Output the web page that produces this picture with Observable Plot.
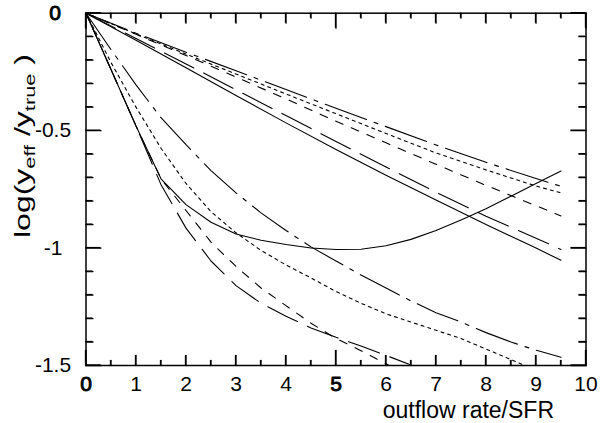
<!DOCTYPE html>
<html>
<head>
<meta charset="utf-8">
<script src="https://cdn.jsdelivr.net/npm/d3@7"></script>
<script src="https://cdn.jsdelivr.net/npm/@observablehq/plot@0.6"></script>
<style>
  html, body { margin: 0; padding: 0; background: #fff; }
  svg { display: block; }
</style>
</head>
<body>
<div id="chart"></div>
<script>
// ---- data ----
const xUpper = [0, 1, 2, 3, 4, 5, 6, 7, 8, 9, 9.5];
const upperDashDot = [0, -0.085, -0.166, -0.245, -0.325, -0.405, -0.483, -0.561, -0.635, -0.704, -0.737];
const upperDotted  = [0, -0.088, -0.174, -0.259, -0.344, -0.428, -0.512, -0.595, -0.667, -0.736, -0.765];
const upperDashed  = [0, -0.090, -0.180, -0.272, -0.365, -0.460, -0.552, -0.643, -0.733, -0.820, -0.863];
const upperLongDash= [0, -0.108, -0.216, -0.326, -0.436, -0.546, -0.655, -0.762, -0.865, -0.958, -1.006];
const upperSolid   = [0, -0.115, -0.232, -0.350, -0.467, -0.580, -0.690, -0.795, -0.900, -1.000, -1.052];

const xLower = [0, 0.5, 1, 1.5, 2, 2.5, 3, 3.5, 4, 4.5, 5, 5.5, 6, 6.5, 7, 7.5, 8, 8.5, 9, 9.5];
const lowerDashDot = [0, -0.155, -0.305, -0.445, -0.56, -0.67, -0.765, -0.85, -0.925, -0.995, -1.055, -1.115, -1.17, -1.225, -1.275, -1.315, -1.36, -1.40, -1.435, -1.465];
const lowerDotted  = [0, -0.21, -0.40, -0.575, -0.725, -0.845, -0.935, -1.01, -1.072, -1.127, -1.185, -1.235, -1.28, -1.315, -1.35, -1.385, -1.43, -1.475, -1.52];
const lowerSolidU  = [0, -0.24, -0.48, -0.705, -0.815, -0.89, -0.94, -0.967, -0.985, -1.0, -1.006, -1.005, -0.99, -0.963, -0.925, -0.88, -0.833, -0.779, -0.725, -0.672];
const lowerDashed  = [0, -0.24, -0.48, -0.705, -0.84, -0.975, -1.078, -1.17, -1.245, -1.32, -1.385, -1.437, -1.493, -1.545];
const lowerLongDash= [0, -0.24, -0.48, -0.73, -0.915, -1.055, -1.16, -1.235, -1.29, -1.34, -1.38, -1.417, -1.457, -1.498, -1.54];

const xTickValues = [0, 1, 2, 3, 4, 5, 6, 7, 8, 9, 10];
const xTickLabels = ["0", "1", "2", "3", "4", "5", "6", "7", "8", "9", "10"];
const yTickValues = [0, -0.5, -1, -1.5];
const yTickLabels = ["0", "-0.5", "-1", "-1.5"];
const xLabel = "outflow rate/SFR";

// ---- styles ----
const DASH_DOT = "44,8,4,8", DOTTED = "3,4", DASHED = "8,9", LONG = "33,11", SOLID = null;
const series = [
  {x: xUpper, y: upperDashDot, dash: DASH_DOT},
  {x: xUpper, y: upperDotted, dash: DOTTED},
  {x: xUpper, y: upperDashed, dash: DASHED},
  {x: xUpper, y: upperLongDash, dash: LONG},
  {x: xUpper, y: upperSolid, dash: SOLID},
  {x: xLower, y: lowerDashDot, dash: DASH_DOT},
  {x: xLower, y: lowerDotted, dash: DOTTED},
  {x: xLower, y: lowerSolidU, dash: SOLID},
  {x: xLower, y: lowerDashed, dash: DASHED},
  {x: xLower, y: lowerLongDash, dash: LONG}
];

const FONT = "'Liberation Sans', Arial, Helvetica, sans-serif";
const W = 604, H = 423, ML = 85.5, MR = 18.5, MT = 12.7, MB = 58;
const innerW = W - ML - MR, innerH = H - MT - MB;
const X0 = 0, X1 = 10, Y0 = -1.5, Y1 = 0;
const pxX = p => p * (X1 - X0) / innerW;   // pixel length -> x units
const pxY = p => p * (Y1 - Y0) / innerH;   // pixel length -> y units

const halfTicks = d3.range(0.5, 10, 1);
const intTicks = [1, 2, 3, 4, 6, 7, 8, 9];
const fiveTicks = [0, 5, 10];
const yMinor = d3.range(-14, 0).filter(i => i % 5 !== 0).map(i => i / 10);
const yMajor = [0, -0.5, -1, -1.5];
const xTickSets = [[halfTicks, 5], [intTicks, 10], [fiveTicks, 15]];
const yTickSets = [[yMinor, 7], [yMajor, 15]];

// inward tick segments on all four sides, as two-point rows grouped by id
const tickRows = [];
let tid = 0;
for (const [ticks, len] of xTickSets) {
  for (const v of ticks) {
    tid++; tickRows.push({id: tid, x: v, y: Y0}, {id: tid, x: v, y: Y0 + pxY(len)});
    tid++; tickRows.push({id: tid, x: v, y: Y1}, {id: tid, x: v, y: Y1 - pxY(len)});
  }
}
for (const [ticks, len] of yTickSets) {
  for (const v of ticks) {
    tid++; tickRows.push({id: tid, x: X0, y: v}, {id: tid, x: X0 + pxX(len), y: v});
    tid++; tickRows.push({id: tid, x: X1, y: v}, {id: tid, x: X1 - pxX(len), y: v});
  }
}

const marks = [];
series.forEach(s => {
  const rows = s.y.map((v, i) => ({x: s.x[i], y: v}));
  marks.push(Plot.line(rows, {x: "x", y: "y", stroke: "black", strokeWidth: 1.1,
    strokeDasharray: s.dash || undefined, clip: true}));
});
marks.push(Plot.frame({stroke: "black", strokeWidth: 1.5}));
marks.push(Plot.line(tickRows, {x: "x", y: "y", z: "id", stroke: "black", strokeWidth: 1.3}));

const boldX = d => d === 0 || d === 5;
const xText = d => xTickLabels[xTickValues.indexOf(d)];
marks.push(Plot.text(xTickValues, {x: d => d, text: xText, frameAnchor: "bottom",
  lineAnchor: "middle", dy: 19, fontSize: 21, fontFamily: FONT, fill: "black", filter: d => !boldX(d)}));
marks.push(Plot.text(xTickValues, {x: d => d, text: xText, frameAnchor: "bottom",
  lineAnchor: "middle", dy: 19, fontSize: 21, fontFamily: FONT, fill: "black", stroke: "black", strokeWidth: 0.9, filter: boldX}));
marks.push(Plot.text(yTickValues, {y: d => d, text: d => yTickLabels[yTickValues.indexOf(d)], frameAnchor: "left",
  textAnchor: "middle", lineAnchor: "middle", dx: -33, fontSize: 21, fontFamily: FONT, fill: "black",
  filter: d => d !== 0}));
marks.push(Plot.text(yTickValues, {y: d => d, text: d => yTickLabels[yTickValues.indexOf(d)], frameAnchor: "left",
  textAnchor: "middle", lineAnchor: "middle", dx: -31, fontSize: 21, fontFamily: FONT, fill: "black",
  stroke: "black", strokeWidth: 0.9, filter: d => d === 0}));
marks.push(Plot.text([xLabel], {text: d => d, frameAnchor: "bottom-right", textAnchor: "end", lineAnchor: "middle",
  dx: -32, dy: 45, fontSize: 23, fontFamily: FONT, fill: "black"}));

const svgEl = Plot.plot({
  width: W,
  height: H,
  marginLeft: ML,
  marginRight: MR,
  marginTop: MT,
  marginBottom: MB,
  style: {background: "#fff", fontFamily: FONT},
  x: {domain: [X0, X1], axis: null},
  y: {domain: [Y0, Y1], axis: null},
  marks
});
document.getElementById("chart").appendChild(svgEl);

// y-axis label with subscripts
const svg = d3.select(svgEl);
const t = svg.append("text")
  .attr("transform", "translate(30,146) rotate(-90)")
  .attr("text-anchor", "middle")
  .attr("font-family", FONT)
  .attr("font-size", 22)
  .attr("fill", "black")
  .attr("textLength", 184)
  .attr("lengthAdjust", "spacingAndGlyphs");
t.append("tspan").text("log(y");
t.append("tspan").attr("font-size", 15).attr("dy", 5).text("eff");
t.append("tspan").attr("dy", -5).text(" /y");
t.append("tspan").attr("font-size", 15).attr("dy", 5).text("true");
t.append("tspan").attr("dy", -5).text(" )");

// extra safety: ticks placed with the plot's own scales, appended on top
try {
  const sx = svgEl.scale("x"), sy = svgEl.scale("y");
  const g = svg.append("g").attr("stroke", "black").attr("stroke-width", 1.3);
  for (const [ticks, len] of xTickSets) {
    for (const v of ticks) {
      const px = sx.apply(v);
      g.append("line").attr("x1", px).attr("x2", px).attr("y1", sy.apply(Y0)).attr("y2", sy.apply(Y0) - len);
      g.append("line").attr("x1", px).attr("x2", px).attr("y1", sy.apply(Y1)).attr("y2", sy.apply(Y1) + len);
    }
  }
  for (const [ticks, len] of yTickSets) {
    for (const v of ticks) {
      const py = sy.apply(v);
      g.append("line").attr("y1", py).attr("y2", py).attr("x1", sx.apply(X0)).attr("x2", sx.apply(X0) + len);
      g.append("line").attr("y1", py).attr("y2", py).attr("x1", sx.apply(X1)).attr("x2", sx.apply(X1) - len);
    }
  }
} catch (e) { /* keep the chart even if scales are unavailable */ }
</script>
</body>
</html>
